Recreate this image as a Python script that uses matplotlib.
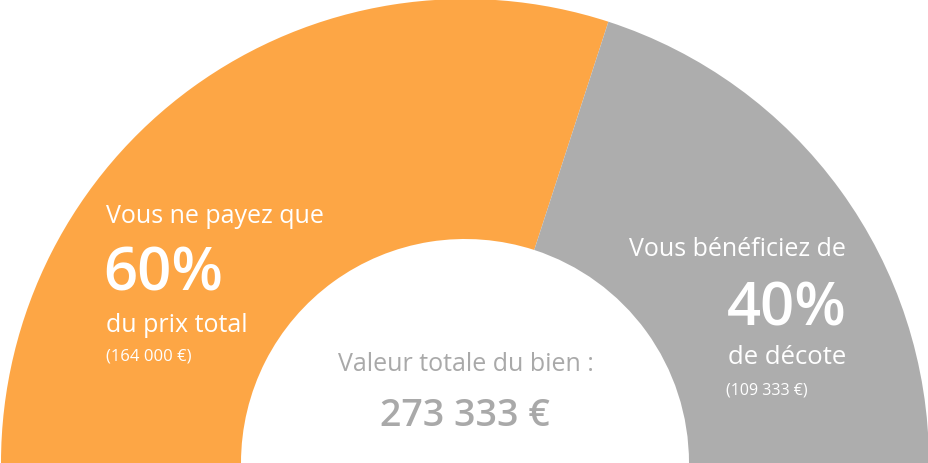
import matplotlib
matplotlib.use("Agg")
import matplotlib.pyplot as plt

# Data
labels = ["Vous ne payez que", "Vous bénéficiez de"]
amounts = [164000, 109333]
total = 273333
pct_labels = ["60%", "40%"]
sub_labels = ["du prix total", "de décote"]
amount_labels = ["(164 000 €)", "(109 333 €)"]
center_title = "Valeur totale du bien :"
center_value = "273 333 €"

orange = "#FDA645"
grey = "#ADADAD"
center_grey = "#A9A9A9"

W, H = 929, 464
fig = plt.figure(figsize=(W / 100, H / 100), dpi=100)
ax = fig.add_axes([0, 0, 1, 1])

R_out = 464
R_in = 224
ax.pie(amounts + [total], radius=R_out, center=(465, 0), startangle=180,
       counterclock=False, colors=[orange, grey, "none"],
       wedgeprops=dict(width=R_out - R_in, linewidth=0))
ax.set_xlim(0, W)
ax.set_ylim(0, H)
ax.set_aspect("equal")
ax.axis("off")

font = "Open Sans"

def Y(ypx):
    return H - ypx

# Left (orange) texts
ax.text(106, Y(217), labels[0], color="white", fontsize=18, family=font,
        ha="left", va="center")
ax.text(103, Y(275), pct_labels[0], color="white", fontsize=43, family=font,
        weight="semibold", ha="left", va="center")
ax.text(106, Y(326), sub_labels[0], color="white", fontsize=18, family=font,
        ha="left", va="center")
ax.text(106, Y(357), amount_labels[0], color="white", fontsize=12, family=font,
        ha="left", va="center")

# Right (grey) texts
ax.text(846, Y(250), labels[1], color="white", fontsize=18, family=font,
        ha="right", va="center")
ax.text(847, Y(310), pct_labels[1], color="white", fontsize=43, family=font,
        weight="semibold", ha="right", va="center")
ax.text(846, Y(358), sub_labels[1], color="white", fontsize=18.5, family=font,
        ha="right", va="center")
ax.text(726, Y(391), amount_labels[1], color="white", fontsize=11.5, family=font,
        ha="left", va="center")

# Center texts
ax.text(466, Y(365), center_title, color=center_grey, fontsize=18, family=font,
        ha="center", va="center")
ax.text(465, Y(416), center_value, color=center_grey, fontsize=27, family=font,
        weight="semibold", ha="center", va="center")

fig.savefig("out.png", dpi=100)
